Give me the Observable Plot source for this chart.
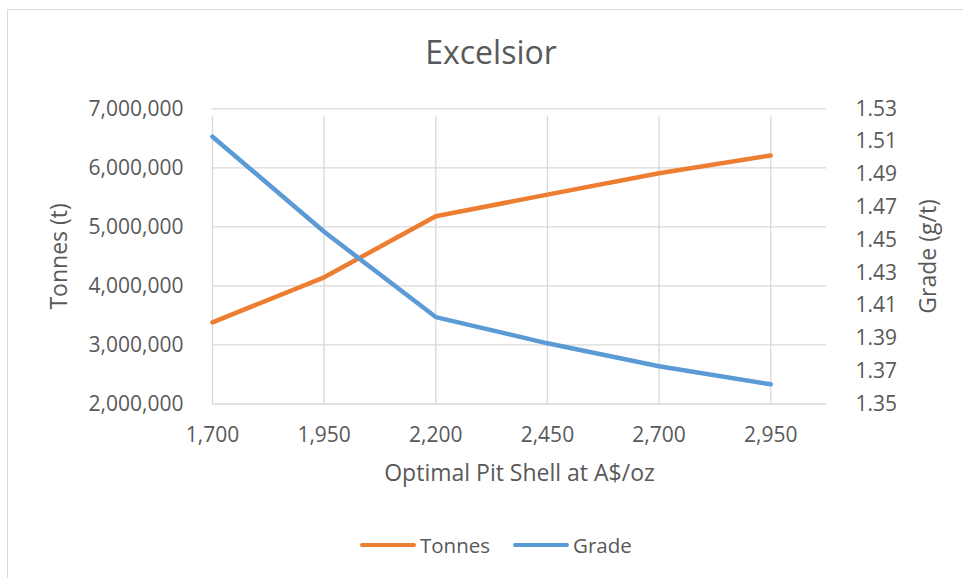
<!DOCTYPE html>
<html>
<head>
<meta charset="utf-8">
<script src="https://cdn.jsdelivr.net/npm/d3@7"></script>
<script src="https://cdn.jsdelivr.net/npm/@observablehq/plot@0.6"></script>
<style>
  body { margin: 0; background: #fff; font-family: "Open Sans", sans-serif; }
  #wrap { position: relative; width: 963px; height: 578px; overflow: hidden; background: #fff; }
  #frame { position: absolute; left: 7px; top: 9px; width: 1000px; height: 700px;
           border-left: 1.5px solid #d9d9d9; border-top: 1.5px solid #d9d9d9; }
  #title { position: absolute; left: 491px; top: 35.6px; transform: translateX(-50%);
           font-size: 32px; line-height: 32px; color: #595959; white-space: nowrap; }
  #chart { position: absolute; left: 0; top: 90px; }
  #legend { position: absolute; left: 360px; top: 530px; height: 30px; display: flex;
            align-items: center; font-size: 20.5px; color: #595959; }
  .sw { display: inline-block; width: 56px; height: 4.5px; border-radius: 3px; margin-right: 4px; }
  .item { display: flex; align-items: center; margin-right: 23px; }
</style>
</head>
<body>
<div id="wrap">
  <div id="frame"></div>
  <div id="title">Excelsior</div>
  <div id="chart"></div>
  <div id="legend"></div>
</div>
<script>
// Data
const price = [1700, 1950, 2200, 2450, 2700, 2950];            // Optimal Pit Shell at A$/oz
const tonnes = [3383000, 4146000, 5180000, 5547000, 5909000, 6210000];
const grade = [1.513, 1.455, 1.403, 1.387, 1.373, 1.362];
const xTicks = [1700, 1950, 2200, 2450, 2700, 2950];
const tonnesTicks = [2000000, 3000000, 4000000, 5000000, 6000000, 7000000];
const gradeTicks = [1.35, 1.37, 1.39, 1.41, 1.43, 1.45, 1.47, 1.49, 1.51, 1.53];
const seriesNames = ["Tonnes", "Grade"];
const seriesColors = ["#ED7D31", "#5B9BD5"];

// Secondary axis mapping (grade -> tonnes scale)
const tMin = 2000000, tMax = 7000000, gMin = 1.35, gMax = 1.53;
const toT = g => tMin + (g - gMin) / (gMax - gMin) * (tMax - tMin);
const fromT = t => gMin + (t - tMin) / (tMax - tMin) * (gMax - gMin);

const tonnesData = price.map((p, i) => ({p, v: tonnes[i]}));
const gradeData = price.map((p, i) => ({p, v: toT(grade[i])}));

const chart = Plot.plot({
  width: 963,
  height: 425,
  marginTop: 18.3,
  marginBottom: 111.5,
  marginLeft: 212,
  marginRight: 137,
  x: {domain: [1700, 3075]},
  y: {domain: [tMin, tMax]},
  style: {fontFamily: "Open Sans", fontSize: "21px", color: "#595959", background: "transparent"},
  marks: [
    Plot.ruleY(tonnesTicks, {stroke: "#d9d9d9", strokeWidth: 1.3}),
    Plot.ruleX(xTicks, {y1: tMin, y2: tMax, insetBottom: -8, stroke: "#d9d9d9", strokeWidth: 1.3}),
    Plot.axisX(xTicks, {tickSize: 0, tickPadding: 23, fontSize: 21, tickFormat: d3.format(","), label: null}),
    Plot.axisY(tonnesTicks, {anchor: "left", tickSize: 0, tickPadding: 29, fontSize: 21,
      tickFormat: d3.format(","), label: null}),
    Plot.axisY(gradeTicks.map(toT), {anchor: "right", tickSize: 0, tickPadding: 29, fontSize: 21,
      tickFormat: d => fromT(d).toFixed(2), label: null}),
    Plot.line(tonnesData, {x: "p", y: "v", stroke: seriesColors[0], strokeWidth: 4.5,
      strokeLinecap: "round", strokeLinejoin: "round"}),
    Plot.line(gradeData, {x: "p", y: "v", stroke: seriesColors[1], strokeWidth: 4.5,
      strokeLinecap: "round", strokeLinejoin: "round"}),
    Plot.text(["Tonnes (t)"], {text: d => d, frameAnchor: "left", dx: -153, rotate: -90,
      fontSize: 23, textAnchor: "middle", lineAnchor: "middle"}),
    Plot.text(["Grade (g/t)"], {text: d => d, frameAnchor: "right", dx: 102, rotate: -90,
      fontSize: 23, textAnchor: "middle", lineAnchor: "middle"}),
    Plot.text(["Optimal Pit Shell at A$/oz"], {text: d => d, frameAnchor: "bottom", dy: 69.5,
      fontSize: 23, lineAnchor: "middle"})
  ]
});
document.getElementById("chart").appendChild(chart);

const legend = document.getElementById("legend");
seriesNames.forEach((name, i) => {
  const item = document.createElement("div");
  item.className = "item";
  const sw = document.createElement("span");
  sw.className = "sw";
  sw.style.background = seriesColors[i];
  const label = document.createElement("span");
  label.textContent = name;
  item.appendChild(sw);
  item.appendChild(label);
  legend.appendChild(item);
});
</script>
</body>
</html>
